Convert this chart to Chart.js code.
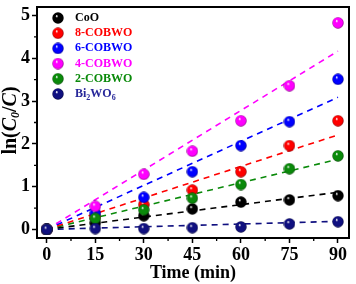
<!DOCTYPE html>
<html>
<head>
<meta charset="utf-8">
<script src="https://cdn.jsdelivr.net/npm/chart.js@4.4.0/dist/chart.umd.min.js"></script>
<style>
  html, body { margin: 0; padding: 0; background: #fff; }
  #wrap { width: 356px; height: 284px; }
</style>
</head>
<body>
<div id="wrap"><canvas id="cv" width="356" height="284"></canvas></div>
<script>
// time points (min)
const times = [0, 15, 30, 45, 60, 75, 90];
// ln(C0/C)
const cooVals    = [0, 0.15, 0.32, 0.48, 0.64, 0.69, 0.79];
const cobwo8Vals = [0, 0.30, 0.58, 0.92, 1.35, 1.96, 2.54];
const cobwo6Vals = [0, 0.38, 0.75, 1.35, 1.96, 2.52, 3.51];
const cobwo4Vals = [0, 0.54, 1.29, 1.83, 2.54, 3.36, 4.83];
const cobwo2Vals = [0, 0.26, 0.46, 0.73, 1.05, 1.42, 1.72];
const bwoVals    = [0, 0.02, 0.02, 0.04, 0.06, 0.13, 0.18];
// dashed linear fits: value at t=0 and t=90
const fitX = [0, 90];
const cooFit    = [0, 0.87];
const cobwo8Fit = [0, 2.21];
const cobwo6Fit = [0, 3.09];
const cobwo4Fit = [0, 4.17];
const cobwo2Fit = [0, 1.64];
const bwoFit    = [0, 0.19];
const xTicks = [0, 15, 30, 45, 60, 75, 90];
const yTicks = [0, 1, 2, 3, 4, 5];

const SERIF = "'Liberation Serif', 'Times New Roman', serif";

const series = [
  { name: 'CoO',     vals: cooVals,    fit: cooFit,    color: '#000000', text: '#000000' },
  { name: '8-COBWO', vals: cobwo8Vals, fit: cobwo8Fit, color: '#ff0000', text: '#ff0000' },
  { name: '6-COBWO', vals: cobwo6Vals, fit: cobwo6Fit, color: '#0000ff', text: '#0000ff' },
  { name: '4-COBWO', vals: cobwo4Vals, fit: cobwo4Fit, color: '#ff00ff', text: '#ff00ff' },
  { name: '2-COBWO', vals: cobwo2Vals, fit: cobwo2Fit, color: '#0a8a0a', text: '#0a8a0a' },
  { name: 'Bi2WO6',  vals: bwoVals,    fit: bwoFit,    color: '#101080', text: '#28289a' },
];

// shaded sphere used as the point marker
function sphere(color) {
  const c = document.createElement('canvas');
  const s = 12;
  c.width = s; c.height = s;
  const g = c.getContext('2d');
  const r = s / 2 - 0.3;
  const grad = g.createRadialGradient(s * 0.38, s * 0.33, 0.3, s / 2, s / 2, r);
  grad.addColorStop(0, '#ffffff');
  grad.addColorStop(0.22, color);
  grad.addColorStop(0.8, color);
  grad.addColorStop(1, shade(color));
  g.fillStyle = grad;
  g.beginPath(); g.arc(s / 2, s / 2, r, 0, Math.PI * 2); g.fill();
  return c;
}
function shade(hex) {
  const n = parseInt(hex.slice(1), 16);
  const f = v => Math.round(v * 0.55);
  return 'rgb(' + f(n >> 16) + ',' + f((n >> 8) & 255) + ',' + f(n & 255) + ')';
}
series.forEach(s => { s.img = sphere(s.color); });

const datasets = [];
series.forEach((s, i) => {
  datasets.push({
    label: s.name + ' fit',
    data: fitX.map((x, k) => ({ x: x, y: s.fit[k] })),
    showLine: true, borderColor: s.color, borderWidth: 1.6, borderDash: [6, 5],
    pointRadius: 0, order: 20 + i,
  });
});
series.forEach((s, i) => {
  datasets.push({
    label: s.name,
    data: times.map((t, k) => ({ x: t, y: s.vals[k] })),
    showLine: false, pointStyle: s.img, pointRadius: 6, order: 10 - i,
  });
});

const decor = {
  id: 'decor',
  afterDraw(chart) {
    const ctx = chart.ctx;
    const a = chart.chartArea;
    const xs = chart.scales.x, ys = chart.scales.y;
    ctx.save();
    // frame
    ctx.strokeStyle = '#000'; ctx.lineWidth = 2;
    ctx.strokeRect(a.left, a.top, a.right - a.left, a.bottom - a.top);
    // minor ticks
    ctx.lineWidth = 1.3;
    ctx.beginPath();
    for (let v = 7.5; v < 90; v += 15) {
      const px = xs.getPixelForValue(v);
      ctx.moveTo(px, a.bottom); ctx.lineTo(px, a.bottom + 3);
    }
    for (let v = 0.5; v < 5.2; v += 1) {
      const py = ys.getPixelForValue(v);
      ctx.moveTo(a.left, py); ctx.lineTo(a.left - 3, py);
    }
    ctx.stroke();

    // legend
    ctx.textBaseline = 'middle';
    ctx.textAlign = 'left';
    series.forEach((s, i) => {
      const y = 18 + i * 15.2;
      ctx.drawImage(s.img, 52, y - 6);
      ctx.fillStyle = s.text;
      ctx.font = 'bold 12px ' + SERIF;
      if (s.name === 'Bi2WO6') {
        let x = 75;
        const parts = [['Bi', 0], ['2', 1], ['WO', 0], ['6', 1]];
        parts.forEach(p => {
          ctx.font = p[1] ? 'bold 8px ' + SERIF : 'bold 12px ' + SERIF;
          ctx.fillText(p[0], x, y + (p[1] ? 3.5 : 0));
          x += ctx.measureText(p[0]).width;
        });
      } else {
        ctx.fillText(s.name, 75, y);
      }
    });

    // x title
    ctx.fillStyle = '#000';
    ctx.font = 'bold 18px ' + SERIF;
    ctx.textAlign = 'center';
    ctx.fillText('Time (min)', (a.left + a.right) / 2, 273);

    // y title: ln(C0/C)
    ctx.translate(11, (a.top + a.bottom) / 2 - 2);
    ctx.rotate(-Math.PI / 2);
    const big = 'bold 20px ' + SERIF, it = 'italic bold 20px ' + SERIF, sub = 'italic bold 12px ' + SERIF;
    const parts = [['ln(', big, 0], ['C', it, 0], ['0', sub, 5], ['/', big, 0], ['C', it, 0], [')', big, 0]];
    let w = 0;
    parts.forEach(p => { ctx.font = p[1]; w += ctx.measureText(p[0]).width; });
    let x = -w / 2;
    ctx.textAlign = 'left';
    parts.forEach(p => {
      ctx.font = p[1];
      ctx.fillText(p[0], x, p[2]);
      x += ctx.measureText(p[0]).width;
    });
    ctx.restore();
  }
};

new Chart(document.getElementById('cv'), {
  type: 'scatter',
  data: { datasets },
  options: {
    responsive: false,
    animation: false,
    devicePixelRatio: 1,
    layout: { padding: { top: 5, right: 3, left: 0, bottom: 0 } },
    plugins: { legend: { display: false }, tooltip: { enabled: false } },
    scales: {
      x: {
        type: 'linear', min: -3, max: 93.4,
        afterFit: s => { s.height = 46; s.paddingLeft = 0; s.paddingRight = 0; },
        afterBuildTicks: s => { s.ticks = xTicks.map(v => ({ value: v })); },
        border: { display: false },
        grid: { drawOnChartArea: false, drawTicks: true, tickLength: 5, tickColor: '#000', tickWidth: 1.5 },
        ticks: { color: '#000', padding: 2, maxRotation: 0, autoSkip: false, font: { family: SERIF, size: 18, weight: 'bold' } },
      },
      y: {
        type: 'linear', min: -0.2, max: 5.2,
        afterFit: s => { s.width = 37; s.paddingTop = 0; s.paddingBottom = 0; },
        afterBuildTicks: s => { s.ticks = yTicks.map(v => ({ value: v })); },
        border: { display: false },
        grid: { drawOnChartArea: false, drawTicks: true, tickLength: 5, tickColor: '#000', tickWidth: 1.5 },
        ticks: { color: '#000', padding: 2, autoSkip: false, font: { family: SERIF, size: 18, weight: 'bold' } },
      },
    },
  },
  plugins: [decor],
});
</script>
</body>
</html>
